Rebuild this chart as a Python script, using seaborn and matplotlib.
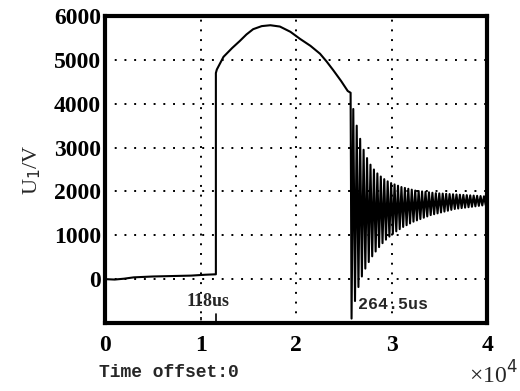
import numpy as np
import pandas as pd
import matplotlib
matplotlib.use("Agg")
import matplotlib.pyplot as plt
import seaborn as sns

# ---- data (x in units of 1e4, y in volts) ----
pre_t = [0.0, 0.10, 0.20, 0.30, 0.50, 0.70, 0.90, 1.05, 1.16]
pre_v = [0, -10, 10, 40, 60, 70, 80, 100, 110]

pulse_t = [1.16, 1.17, 1.24, 1.33, 1.41, 1.48, 1.55, 1.64, 1.73, 1.83, 1.94, 2.04, 2.15, 2.25, 2.32, 2.39, 2.47, 2.54, 2.57]
pulse_v = [4700, 4780, 5070, 5270, 5430, 5580, 5700, 5770, 5790, 5760, 5640, 5480, 5320, 5140, 4960, 4760, 4520, 4290, 4250]

ring_t = [2.580, 2.598, 2.616, 2.634, 2.652, 2.670, 2.688, 2.706, 2.724, 2.742,
          2.760, 2.778, 2.796, 2.814, 2.832, 2.850, 2.868, 2.886, 2.904, 2.922,
          2.940, 2.958, 2.976, 2.994, 3.012, 3.030, 3.048, 3.066, 3.084, 3.102,
          3.120, 3.138, 3.156, 3.174, 3.192, 3.210, 3.228, 3.246, 3.264, 3.282,
          3.300, 3.318, 3.336, 3.354, 3.372, 3.390, 3.408, 3.426, 3.444, 3.462,
          3.480, 3.498, 3.516, 3.534, 3.552, 3.570, 3.588, 3.606, 3.624, 3.642,
          3.660, 3.678, 3.696, 3.714, 3.732, 3.750, 3.768, 3.786, 3.804, 3.822,
          3.840, 3.858, 3.876, 3.894, 3.912, 3.930, 3.948, 3.966, 3.984, 4.000]
ring_troughs = [-900, -500, -180, 60, 240, 390, 520, 630, 730, 820,
                900, 970, 1030, 1090, 1140, 1190, 1230, 1270, 1310, 1340,
                1370, 1400, 1430, 1460, 1480, 1500, 1520, 1540, 1560, 1580,
                1600, 1610, 1620, 1630, 1640, 1650, 1660, 1670, 1680, 1690]
ring_peaks = [3880, 3500, 3200, 2950, 2760, 2610, 2500, 2410, 2340, 2280,
              2230, 2190, 2160, 2130, 2100, 2080, 2060, 2040, 2020, 2010,
              2000, 1990, 1980, 1970, 1960, 1955, 1950, 1945, 1940, 1935,
              1930, 1925, 1920, 1915, 1910, 1905, 1900, 1895, 1890, 1880]

x_ticks = [0, 1, 2, 3, 4]
y_ticks = [0, 1000, 2000, 3000, 4000, 5000, 6000]

ring_v = [v for pair in zip(ring_troughs, ring_peaks) for v in pair]
t_all = pre_t + pulse_t + ring_t
v_all = pre_v + pulse_v + ring_v
df = pd.DataFrame({"t": t_all, "v": v_all})

sns.set_style("white")
plt.rcParams['font.family'] = ['Liberation Serif', 'DejaVu Serif']

fig = plt.figure(figsize=(5.2, 3.91), dpi=100)
ax = fig.add_axes([0.202, 0.174, 0.735, 0.785])

sns.lineplot(data=df, x="t", y="v", sort=False, estimator=None, color="black",
             linewidth=1.5, ax=ax)

ax.set_xlim(0, 4)
ax.set_ylim(-1000, 6000)
ax.set_xticks(x_ticks)
ax.set_yticks(y_ticks)
ax.set_xticklabels([str(v) for v in x_ticks], fontsize=17, fontweight="bold")
ax.set_yticklabels([str(v) for v in y_ticks], fontsize=17, fontweight="bold")
ax.grid(True, color="black", linestyle=(0, (1, 4)), linewidth=1.4)
ax.tick_params(axis="both", direction="in", length=3, width=1, pad=3, colors="black")
ax.tick_params(axis="x", pad=9)
for s in ax.spines.values():
    s.set_linewidth(3)
    s.set_color("black")
ax.set_xlabel("")
ax.set_ylabel("U$_1$/V", fontsize=16, labelpad=8)

# annotations
ax.text(1.08, -520, "118us", fontsize=13, fontweight="bold", ha="center", va="center",
        family=["Liberation Serif"])
ax.plot([1.0, 1.0], [-870, -1000], color="black", lw=1.2, linestyle=(0, (2, 2)))
ax.plot([1.16, 1.16], [-800, -1000], color="black", lw=1.2)
ax.text(2.65, -590, "264.5us", fontsize=12, fontweight="bold", ha="left", va="center",
        family=["Liberation Mono"])

fig.text(0.19, 0.025, "Time offset:0", fontsize=13, fontweight="bold",
         family=["Liberation Mono"], ha="left", va="bottom")
fig.text(0.995, 0.005, "×10$^4$", fontsize=17, ha="right", va="bottom")

fig.savefig("out.png", dpi=100)
